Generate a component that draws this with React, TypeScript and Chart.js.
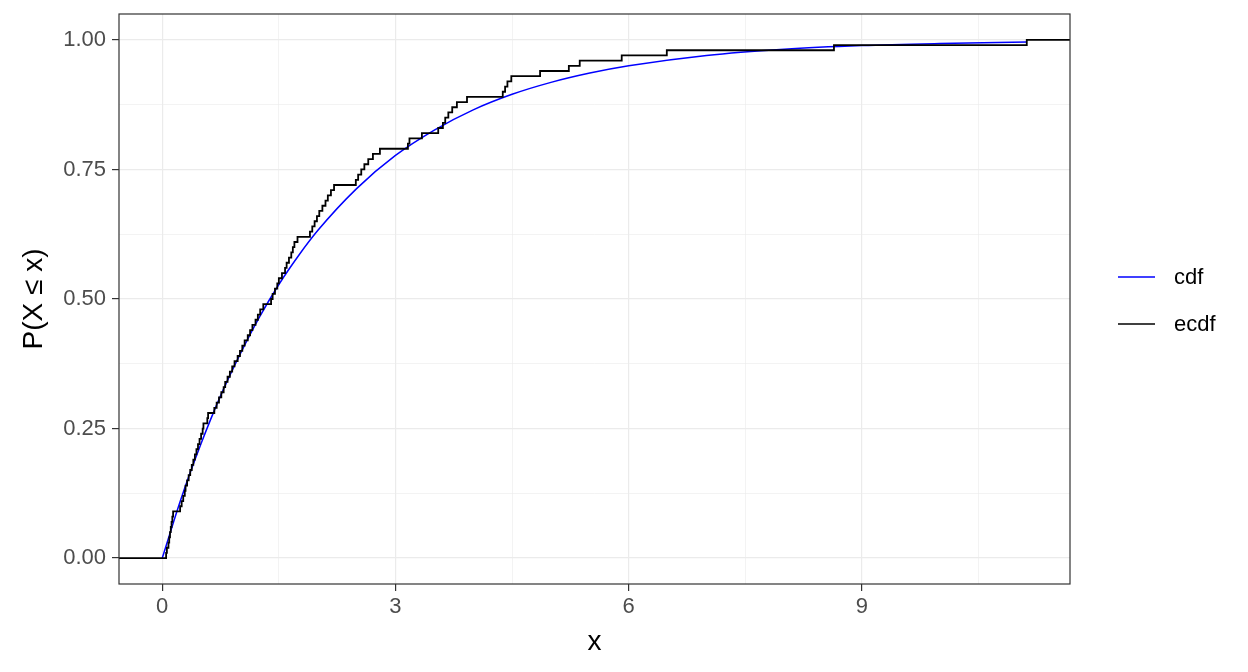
import React, { useEffect, useRef } from "react";
import { Chart, registerables } from "chart.js";

Chart.register(...registerables);

const sampleX = [
  0.05, 0.06, 0.08, 0.09, 0.1, 0.11, 0.12, 0.13, 0.14, 0.23,
  0.25, 0.27, 0.29, 0.3, 0.32, 0.34, 0.36, 0.38, 0.4, 0.42,
  0.44, 0.46, 0.48, 0.5, 0.52, 0.53, 0.58, 0.59, 0.67, 0.7,
  0.73, 0.76, 0.79, 0.81, 0.84, 0.87, 0.9, 0.93, 0.97, 1.0,
  1.03, 1.06, 1.1, 1.13, 1.16, 1.2, 1.23, 1.26, 1.3, 1.4,
  1.42, 1.45, 1.48, 1.5, 1.54, 1.58, 1.6, 1.63, 1.66, 1.68,
  1.7, 1.74, 1.9, 1.93, 1.96, 1.99, 2.02, 2.06, 2.1, 2.13,
  2.17, 2.21, 2.49, 2.52, 2.56, 2.6, 2.65, 2.71, 2.8, 3.16,
  3.18, 3.34, 3.55, 3.61, 3.64, 3.68, 3.73, 3.79, 3.92, 4.38,
  4.41, 4.44, 4.49, 4.86, 5.23, 5.37, 5.91, 6.49, 8.64, 11.12,
];

// Theoretical CDF
const cdfX = [0, 0.25, 0.5, 0.75, 1, 1.25, 1.5, 1.75, 2, 2.5, 3, 3.5, 4, 4.5, 5, 5.5, 6, 7, 8, 9, 10, 11.12];
const cdfY = [0, 0.118, 0.221, 0.313, 0.393, 0.465, 0.528, 0.583, 0.632, 0.713, 0.777, 0.826, 0.865, 0.895, 0.918, 0.936, 0.95, 0.97, 0.982, 0.989, 0.993, 0.996];

const xMajor = [0, 3, 6, 9];
const xMinor = [1.5, 4.5, 7.5, 10.5];
const yMajor = [0, 0.25, 0.5, 0.75, 1];
const yMinor = [0.125, 0.375, 0.625, 0.875];
const xTickLabels = ["0", "3", "6", "9"];
const yTickLabels = ["0.00", "0.25", "0.50", "0.75", "1.00"];

const X_MIN = -0.556;
const X_MAX = 11.676;
const Y_MIN = -0.05;
const Y_MAX = 1.05;

const legendItems = [
  { label: "cdf", color: "#0000FF" },
  { label: "ecdf", color: "#000000" },
];

const FONT = '"Liberation Sans", Arial, sans-serif';

export default function App() {
  const ref = useRef<HTMLCanvasElement | null>(null);

  useEffect(() => {
    document.body.style.margin = "0";
    const canvas = ref.current;
    if (!canvas) return;

    const ecdfData: { x: number; y: number }[] = [{ x: X_MIN, y: 0 }];
    sampleX.forEach((v, i) => ecdfData.push({ x: v, y: (i + 1) / sampleX.length }));
    ecdfData.push({ x: X_MAX, y: 1 });

    const cdfData = cdfX.map((x, i) => ({ x, y: cdfY[i] }));

    const xAll = [...xMajor, ...xMinor].sort((a, b) => a - b);
    const yAll = [...yMajor, ...yMinor].sort((a, b) => a - b);

    const decor = {
      id: "decor",
      afterDraw(chart: any) {
        const { ctx, chartArea: a } = chart;
        ctx.save();
        ctx.strokeStyle = "#333333";
        ctx.lineWidth = 1.2;
        ctx.strokeRect(a.left, a.top, a.right - a.left, a.bottom - a.top);

        ctx.fillStyle = "#000000";
        ctx.font = `28px ${FONT}`;
        ctx.textAlign = "center";
        ctx.textBaseline = "middle";
        ctx.fillText("x", (a.left + a.right) / 2, 642);
        ctx.save();
        ctx.translate(34, (a.top + a.bottom) / 2);
        ctx.rotate(-Math.PI / 2);
        ctx.fillText("P(X \u2264 x)", 0, 0);
        ctx.restore();

        ctx.font = `22px ${FONT}`;
        ctx.textAlign = "left";
        legendItems.forEach((it, i) => {
          const y = 277 + i * 47;
          ctx.strokeStyle = it.color;
          ctx.lineWidth = 1.6;
          ctx.beginPath();
          ctx.moveTo(1118, y);
          ctx.lineTo(1155, y);
          ctx.stroke();
          ctx.fillStyle = "#000000";
          ctx.fillText(it.label, 1174, y + 1);
        });
        ctx.restore();
      },
    };

    const chart = new Chart(canvas, {
      type: "line",
      data: {
        datasets: [
          {
            label: "ecdf",
            data: ecdfData,
            borderColor: "#000000",
            borderWidth: 1.8,
            pointRadius: 0,
            stepped: true,
            fill: false,
            order: 0,
          },
          {
            label: "cdf",
            data: cdfData,
            borderColor: "#0000FF",
            borderWidth: 1.5,
            pointRadius: 0,
            cubicInterpolationMode: "monotone",
            fill: false,
            order: 1,
          },
        ],
      },
      options: {
        animation: false,
        responsive: false,
        maintainAspectRatio: false,
        parsing: false,
        layout: { padding: { top: 14, right: 178, left: 0, bottom: 0 } },
        plugins: { legend: { display: false }, tooltip: { enabled: false } },
        scales: {
          x: {
            type: "linear",
            min: X_MIN,
            max: X_MAX,
            border: { display: false },
            afterBuildTicks: (scale: any) => {
              scale.ticks = xAll.map((v) => ({ value: v }));
            },
            afterFit: (scale: any) => {
              scale.height = 88;
            },
            grid: {
              color: "#EBEBEB",
              lineWidth: (c: any) => (xMajor.includes(c.tick?.value) ? 1.2 : 0.6),
              tickLength: 7,
              tickColor: (c: any) => (xMajor.includes(c.tick?.value) ? "#333333" : "rgba(0,0,0,0)"),
              tickWidth: 1.2,
            },
            ticks: {
              color: "#4D4D4D",
              font: { family: FONT, size: 22 },
              padding: 3,
              maxRotation: 0,
              autoSkip: false,
              callback: (v: any) => {
                const i = xMajor.indexOf(Number(v));
                return i >= 0 ? xTickLabels[i] : "";
              },
            },
          },
          y: {
            type: "linear",
            min: Y_MIN,
            max: Y_MAX,
            border: { display: false },
            afterBuildTicks: (scale: any) => {
              scale.ticks = yAll.map((v) => ({ value: v }));
            },
            afterFit: (scale: any) => {
              scale.width = 119;
            },
            grid: {
              color: "#EBEBEB",
              lineWidth: (c: any) => (yMajor.includes(c.tick?.value) ? 1.2 : 0.6),
              tickLength: 7,
              tickColor: (c: any) => (yMajor.includes(c.tick?.value) ? "#333333" : "rgba(0,0,0,0)"),
              tickWidth: 1.2,
            },
            ticks: {
              color: "#4D4D4D",
              font: { family: FONT, size: 22, lineHeight: 0.6 },
              padding: 6,
              autoSkip: false,
              callback: (v: any) => {
                const i = yMajor.indexOf(Number(v));
                return i >= 0 ? yTickLabels[i] : "";
              },
            },
          },
        },
      },
      plugins: [decor],
    });

    return () => chart.destroy();
  }, []);

  return (
    <div style={{ position: "absolute", left: 0, top: 0, width: 1248, height: 672, background: "#fff" }}>
      <canvas ref={ref} width={1248} height={672} style={{ width: 1248, height: 672, display: "block" }} />
    </div>
  );
}
